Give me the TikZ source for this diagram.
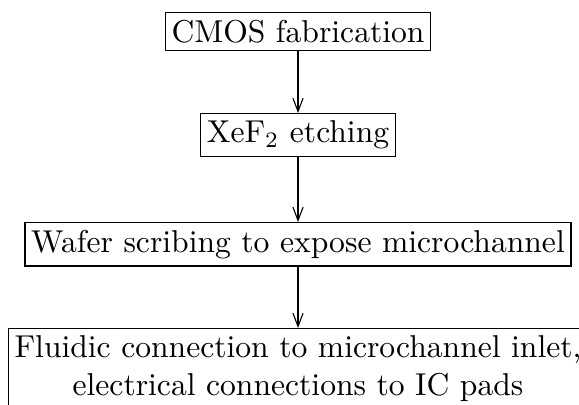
\documentclass[tikz,border=0pt]{standalone}
\usepackage{tikz}
\usetikzlibrary{arrows.meta}
\begin{document}
\begin{tikzpicture}[x=0.3164pt,y=-0.3164pt,
  stepbox/.style={draw,anchor=north,align=center,inner xsep=2pt,inner ysep=2.3pt,font=\normalsize},
  flow/.style={-{Straight Barb[length=4.2pt,width=3.2pt,line width=0.35pt]},line width=0.35pt}]
  \useasboundingbox (0,0) rectangle (579,404);
  \clip (0,0) rectangle (579,404);
  \node[stepbox] (cmos) at (298,12) {CMOS fabrication};
  \node[stepbox] (xef) at (298,113) {XeF$_2$ etching};
  \node[stepbox] (scribe) at (298,222) {Wafer scribing to expose microchannel};
  \node[stepbox] (fluid) at (298,328) {Fluidic connection to microchannel inlet,\\electrical connections to IC pads};
  \draw[flow] (cmos) -- (xef);
  \draw[flow] (xef) -- (scribe);
  \draw[flow] (scribe) -- (fluid);
\end{tikzpicture}
\end{document}
